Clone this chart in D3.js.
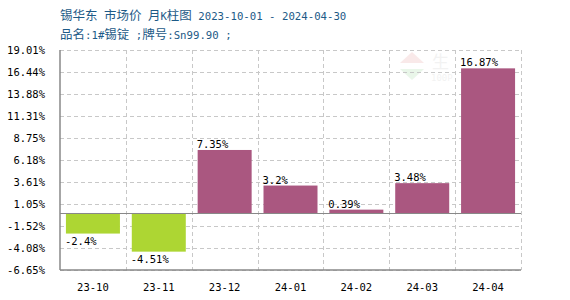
<!DOCTYPE html>
<meta charset="utf-8">
<style>
body { margin: 0; background: #fff; }
.grid line { stroke: #c8c8c8; stroke-dasharray: 4,3; }
.mono { font-family: "DejaVu Sans Mono", monospace; font-size: 10.5px; }
</style>
<svg width="570" height="300"></svg>
<script src="https://cdn.jsdelivr.net/npm/d3@7"></script>
<script>
var months = ["23-10", "23-11", "23-12", "24-01", "24-02", "24-03", "24-04"];
var changes = [-2.4, -4.51, 7.35, 3.2, 0.39, 3.48, 16.87];
var yTicks = [19.01, 16.44, 13.88, 11.31, 8.75, 6.18, 3.61, 1.05, -1.52, -4.08, -6.65];
var titleText = "锡华东 市场价 月K柱图 2023-10-01 - 2024-04-30";
var subText = "品名:1#锡锭 ;牌号:Sn99.90 ;";

var svg = d3.select("svg"),
    plotL = 60, plotR = 521, plotT = 50, plotB = 270;

var x = d3.scaleBand().domain(months).range([plotL, plotR]).paddingInner(0).paddingOuter(0);
var y = d3.scaleLinear().domain([-6.65, 19.01]).range([plotB, plotT]);

// title lines: cjk chars in a cjk font, the rest in mono
function mixed(sel, str) {
  str.match(/[\u3000-\u9fff\uff00-\uffef]+|[^\u3000-\u9fff\uff00-\uffef]+/g).forEach(function(part) {
    var cjk = /[\u3000-\u9fff]/.test(part);
    sel.append("tspan")
      .attr("font-family", cjk ? "'Noto Sans CJK SC'" : "'DejaVu Sans Mono'")
      .attr("font-size", cjk ? "12.5px" : "10.7px")
      .text(part);
  });
}
var t1 = svg.append("text").attr("x", 60).attr("y", 20).attr("fill", "#1d5a87").attr("xml:space", "preserve");
mixed(t1, titleText);
var t2 = svg.append("text").attr("x", 60).attr("y", 39).attr("fill", "#1d5a87").attr("xml:space", "preserve");
mixed(t2, subText);

// faint watermark (mostly hidden behind the last bar)
var wm = svg.append("g").attr("opacity", 0.1);
wm.append("path").attr("d", "M412,52 L424,63 L400,63 Z").attr("fill", "#c33");
wm.append("path").attr("d", "M400,69 L424,69 L412,80 Z").attr("fill", "#3a3");
wm.append("text").attr("x", 432).attr("y", 68).attr("font-family", "'Noto Sans CJK SC'")
  .attr("font-size", "17px").attr("fill", "#888").text("生");
wm.append("text").attr("x", 431).attr("y", 81).attr("font-family", "'DejaVu Sans Mono'")
  .attr("font-size", "9px").attr("fill", "#888").text("100P");

// grid
var grid = svg.append("g").attr("class", "grid");
grid.selectAll(".h").data(yTicks).enter().append("line")
  .attr("x1", plotL).attr("x2", plotR)
  .attr("y1", function(d) { return Math.round(y(d)) + 0.5; })
  .attr("y2", function(d) { return Math.round(y(d)) + 0.5; });
grid.selectAll(".v").data(months).enter().append("line")
  .attr("x1", function(d) { return Math.round(x(d) + x.bandwidth()) + 0.5; })
  .attr("x2", function(d) { return Math.round(x(d) + x.bandwidth()) + 0.5; })
  .attr("y1", plotT).attr("y2", plotB);

// y tick labels
svg.selectAll(".yl").data(yTicks).enter().append("text")
  .attr("class", "mono").attr("x", 45).attr("y", function(d) { return y(d) + 4; })
  .attr("text-anchor", "end").attr("fill", "#000")
  .text(function(d) { return d.toFixed(2) + "%"; });

// x labels
svg.selectAll(".xl").data(months).enter().append("text")
  .attr("class", "mono").attr("x", function(d) { return x(d) + x.bandwidth() / 2; })
  .attr("y", 291).attr("text-anchor", "middle").attr("fill", "#000")
  .text(function(d) { return d; });

// bars
var barW = 54;
var data = months.map(function(m, i) { return { m: m, v: changes[i] }; });
svg.selectAll(".bar").data(data).enter().append("rect")
  .attr("x", function(d) { return x(d.m) + (x.bandwidth() - barW) / 2; })
  .attr("width", barW)
  .attr("y", function(d) { return y(Math.max(0, d.v)); })
  .attr("height", function(d) { return Math.abs(y(d.v) - y(0)); })
  .attr("fill", function(d) { return d.v < 0 ? "#add633" : "#aa5780"; });

svg.selectAll(".vl").data(data).enter().append("text")
  .attr("class", "mono")
  .attr("x", function(d) { return x(d.m) + (x.bandwidth() - barW) / 2 - 1; })
  .attr("y", function(d) { return d.v < 0 ? y(d.v) + 11 : y(d.v) - 2; })
  .attr("fill", "#000")
  .text(function(d) { return d.v + "%"; });

// axes lines
var ax = svg.append("g").attr("stroke", "#888").attr("stroke-width", 1.5);
ax.append("line").attr("x1", plotL).attr("x2", plotL).attr("y1", plotT).attr("y2", plotB);
ax.append("line").attr("x1", plotL).attr("x2", plotR).attr("y1", plotB).attr("y2", plotB);
ax.append("line").attr("x1", plotL).attr("x2", plotR).attr("y1", Math.round(y(0)) + 0.5).attr("y2", Math.round(y(0)) + 0.5).attr("stroke-width", 1.2);
</script>
